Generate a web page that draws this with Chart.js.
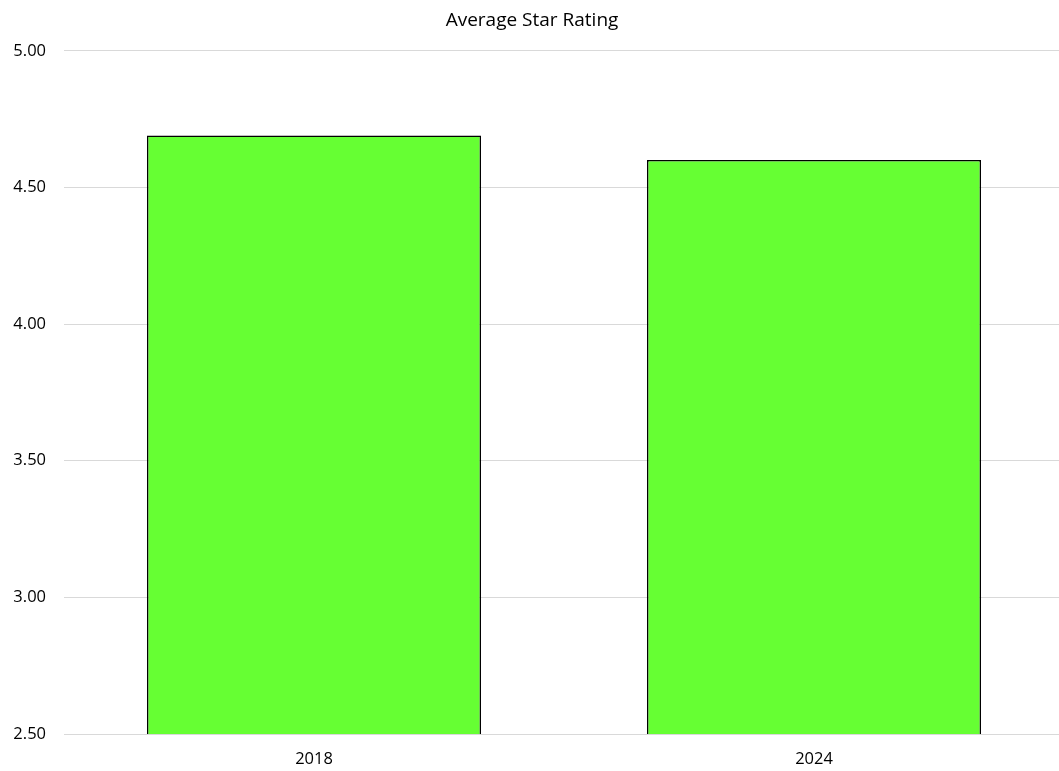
<!DOCTYPE html>
<html>
<head>
<meta charset="utf-8">
<script src="https://cdn.jsdelivr.net/npm/chart.js@4/dist/chart.umd.min.js"></script>
<style>
  html, body { margin: 0; padding: 0; background: #fff; overflow: hidden; }
  #wrap { width: 1059px; height: 771px; overflow: hidden; }
</style>
</head>
<body>
<div id="wrap"><canvas id="chart" width="1064" height="771"></canvas></div>
<script>
// dữ liệu
const years = ['2018', '2024'];
const avgRating = [4.69, 4.60];
const yMin = 2.5, yMax = 5.0, yStep = 0.5;

const fontFamily = '"Open Sans", "Noto Sans", sans-serif';

new Chart(document.getElementById('chart').getContext('2d'), {
    type: 'bar',
    data: {
        labels: years,
        datasets: [{
            label: 'Average Star Rating',
            data: avgRating,
            backgroundColor: '#66ff33',
            borderColor: '#000000',
            borderWidth: 1.5,
            categoryPercentage: 1.0,
            barPercentage: 0.668
        }]
    },
    options: {
        responsive: false,
        animation: false,
        layout: { padding: 0 },
        plugins: {
            legend: { display: false },
            tooltip: { enabled: false },
            title: {
                display: true,
                text: 'Average Star Rating',
                color: '#000',
                font: { family: fontFamily, size: 19, weight: 'normal' },
                padding: { top: 9, bottom: 19 }
            }
        },
        scales: {
            x: {
                grid: { display: false },
                border: { display: false },
                ticks: {
                    color: '#000',
                    font: { family: fontFamily, size: 16.5 },
                    padding: 7
                },
                afterFit: function(scale) { scale.height = 37; }
            },
            y: {
                min: yMin,
                max: yMax,
                grid: { color: '#d9d9d9', lineWidth: 1, drawTicks: false },
                border: { display: false },
                ticks: {
                    stepSize: yStep,
                    color: '#000',
                    font: { family: fontFamily, size: 16.5 },
                    padding: 18,
                    callback: v => v.toFixed(2)
                },
                afterFit: function(scale) { scale.width = 64; }
            }
        }
    }
});
</script>
</body>
</html>
